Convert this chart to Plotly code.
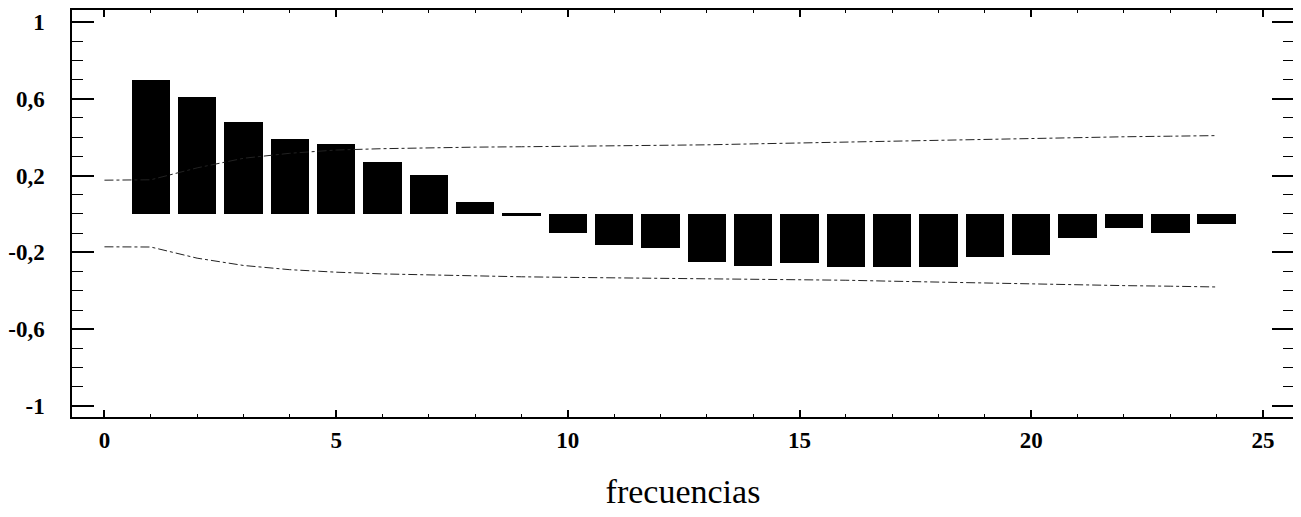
import plotly.graph_objects as go

# Data
lags = list(range(1, 25))
acf = [0.698, 0.608, 0.477, 0.392, 0.366, 0.271, 0.204, 0.064, -0.008, -0.101,
       -0.160, -0.178, -0.252, -0.269, -0.257, -0.278, -0.275, -0.278, -0.223,
       -0.212, -0.123, -0.074, -0.100, -0.050]

band_x = list(range(0, 25))
upper = [0.176, 0.178, 0.240, 0.290, 0.316, 0.333, 0.340, 0.345, 0.348, 0.350,
         0.352, 0.354, 0.356, 0.360, 0.365, 0.370, 0.375, 0.380, 0.385, 0.390,
         0.395, 0.400, 0.402, 0.405, 0.408]
lower = [-0.171, -0.172, -0.230, -0.268, -0.290, -0.303, -0.312, -0.318, -0.323,
         -0.327, -0.330, -0.332, -0.334, -0.336, -0.338, -0.340, -0.345, -0.350,
         -0.355, -0.360, -0.365, -0.370, -0.373, -0.376, -0.380]

y_tickvals = [-1, -0.6, -0.2, 0.2, 0.6, 1]
y_ticktext = ["-1", "-0,6", "-0,2", "0,2", "0,6", "1"]
x_tickvals = [0, 5, 10, 15, 20, 25]
x_ticktext = ["0", "5", "10", "15", "20", "25"]
x_title = "frecuencias"

fig = go.Figure()
fig.add_trace(go.Bar(x=lags, y=acf, width=0.83, marker=dict(color="black", line=dict(width=0)),
                     showlegend=False))
fig.add_trace(go.Scatter(x=band_x, y=upper, mode="lines",
                         line=dict(color="#222222", width=1, dash="dashdot"), showlegend=False))
fig.add_trace(go.Scatter(x=band_x, y=lower, mode="lines",
                         line=dict(color="#222222", width=1, dash="dashdot"), showlegend=False))

tickfont = dict(family="Liberation Serif", size=23, color="black", weight="bold")

# page body has an 8px default margin, so the figure is sized/offset to compensate
fig.update_layout(
    width=1293, height=509,
    margin=dict(l=63, r=7, t=0, b=100),
    paper_bgcolor="white", plot_bgcolor="white",
    bargap=0,
    xaxis=dict(
        range=[-0.7, 25.67], showgrid=False, zeroline=False,
        showline=True, linecolor="black", linewidth=1.5, mirror="allticks",
        ticks="inside", ticklen=7, tickwidth=1.5, tickcolor="black",
        tickvals=x_tickvals, ticktext=x_ticktext, tickfont=tickfont,
        ticklabelstandoff=2,
        minor=dict(dtick=1, tick0=0, ticks="inside", ticklen=3, tickwidth=1, tickcolor="black"),
        title=dict(text=x_title, font=dict(family="Liberation Serif", size=34, color="black"),
                   standoff=27),
    ),
    yaxis=dict(
        range=[-1.057, 1.062], showgrid=False, zeroline=False,
        showline=True, linecolor="black", linewidth=1.5, mirror="allticks",
        ticks="inside", ticklen=22, tickwidth=1.5, tickcolor="black",
        tickvals=y_tickvals, ticktext=y_ticktext, tickfont=tickfont,
        ticklabelstandoff=21,
        minor=dict(dtick=0.1, tick0=0, ticks="inside", ticklen=11, tickwidth=1, tickcolor="black"),
    ),
)

fig.write_html("out.html")
